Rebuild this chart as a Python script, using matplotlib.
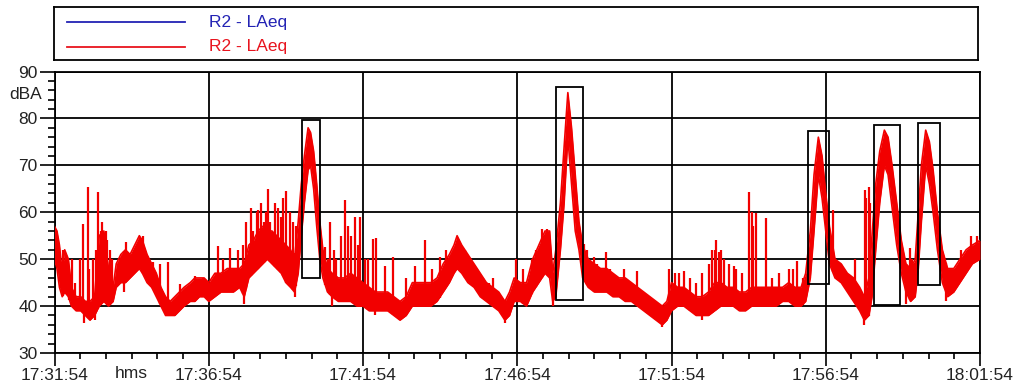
import matplotlib
matplotlib.use("Agg")
import matplotlib.pyplot as plt
from matplotlib.patches import Rectangle
from matplotlib.ticker import MultipleLocator, FixedLocator, FixedFormatter
import numpy as np

plt.rcParams['font.family'] = ['Liberation Sans', 'DejaVu Sans']

# LAeq trace, minutes after 17:31:54, lower / upper edge of the noisy band (dBA)
t_min = [0.00, 0.08, 0.16, 0.25, 0.33, 0.45, 0.55, 0.70, 0.85, 1.00, 1.15, 1.30, 1.45, 1.60, 1.75,
         1.90, 2.00, 2.15, 2.30, 2.45, 2.60, 2.75, 2.85, 3.00, 3.15, 3.30, 3.45, 3.60, 3.75, 3.90,
         4.05, 4.20, 4.40, 4.55, 4.70, 4.85, 5.00, 5.20, 5.40, 5.60, 5.80, 6.00, 6.15, 6.30, 6.45,
         6.60, 6.75, 6.90, 7.05, 7.20, 7.35, 7.50, 7.65, 7.78, 7.90, 8.00, 8.10, 8.22, 8.30, 8.40,
         8.50, 8.60, 8.70, 8.85, 9.00, 9.20, 9.40, 9.60, 9.80, 10.00, 10.20, 10.40, 10.60, 10.80, 11.00,
         11.20, 11.40, 11.60, 11.80, 12.00, 12.20, 12.40, 12.60, 12.80, 12.95, 13.05, 13.20, 13.40, 13.60, 13.80,
         14.00, 14.20, 14.40, 14.60, 14.75, 14.90, 15.10, 15.30, 15.50, 15.70, 15.90, 16.05, 16.15, 16.25, 16.40,
         16.52, 16.64, 16.76, 16.88, 17.00, 17.12, 17.30, 17.50, 17.70, 17.90, 18.10, 18.30, 18.50, 18.70, 18.90,
         19.10, 19.30, 19.50, 19.70, 19.85, 20.00, 20.20, 20.40, 20.60, 20.80, 21.00, 21.20, 21.40, 21.60, 21.80,
         22.00, 22.20, 22.40, 22.60, 22.80, 23.00, 23.20, 23.40, 23.60, 23.80, 24.00, 24.20, 24.35, 24.50, 24.62,
         24.76, 24.88, 25.00, 25.12, 25.30, 25.50, 25.70, 25.90, 26.10, 26.25, 26.40, 26.50, 26.62, 26.75, 26.90,
         27.02, 27.15, 27.30, 27.45, 27.60, 27.75, 27.90, 28.00, 28.10, 28.24, 28.36, 28.48, 28.62, 28.78, 28.95,
         29.15, 29.35, 29.55, 29.75, 30.00]
laeq_lo = [50, 48, 44, 42, 43, 42, 40, 39, 39, 38, 37, 38, 40, 41, 40,
           41, 44, 45, 45, 46, 47, 48, 47, 45, 44, 42, 40, 38, 38, 38,
           39, 40, 41, 41, 42, 42, 41, 42, 43, 43, 43, 44, 42, 46, 47,
           48, 49, 50, 49, 48, 47, 45, 44, 43, 47, 55, 62, 69, 70, 65,
           57, 50, 46, 43, 42, 41, 41, 41, 40, 40, 39, 39, 39, 39, 38,
           37, 38, 40, 40, 40, 40, 41, 43, 45, 47, 48, 47, 45, 44, 42,
           41, 40, 39, 37, 38, 41, 41, 40, 43, 45, 47, 46, 41, 42, 52,
           62, 76, 66, 56, 52, 46, 44, 43, 43, 43, 42, 42, 41, 41, 40,
           39, 38, 37, 36, 37, 39, 40, 40, 39, 38, 38, 38, 39, 40, 40,
           40, 39, 39, 40, 40, 40, 40, 40, 41, 41, 40, 40, 41, 46, 56,
           68, 63, 56, 49, 46, 45, 43, 41, 39, 37, 38, 42, 52, 62, 70,
           68, 61, 53, 47, 43, 41, 42, 48, 58, 70, 66, 60, 52, 45, 42,
           43, 45, 47, 49, 50]
laeq_hi = [57, 56, 53, 47, 52, 50, 44, 42, 42, 41, 41, 42, 55, 56, 48,
           44, 49, 51, 52, 51, 53, 55, 54, 51, 49, 47, 44, 42, 41, 42,
           43, 44, 45, 46, 46, 46, 45, 47, 47, 48, 48, 48, 49, 53, 54,
           56, 57, 56, 56, 55, 54, 53, 52, 50, 58, 66, 72, 78, 77, 73,
           66, 58, 52, 48, 47, 46, 46, 47, 46, 45, 44, 43, 43, 43, 42,
           41, 42, 45, 45, 45, 45, 46, 49, 51, 53, 55, 53, 51, 49, 47,
           45, 44, 43, 41, 43, 46, 45, 45, 50, 53, 56, 56, 47, 52, 62,
           74, 85.5, 78, 68, 58, 53, 50, 49, 48, 48, 47, 46, 46, 45, 44,
           43, 42, 41, 40, 41, 45, 44, 44, 43, 42, 42, 43, 45, 45, 44,
           44, 43, 43, 44, 44, 44, 44, 44, 44, 45, 44, 44, 47, 56, 68,
           76, 72, 64, 57, 50, 49, 47, 46, 44, 42, 46, 55, 66, 73, 77.5,
           76, 70, 62, 54, 49, 48, 50, 60, 70, 77.5, 75, 69, 60, 52, 48,
           48, 50, 52, 53, 54]

# short spikes rising out of the band
spike_t = [0.05, 0.26, 0.40, 0.48, 0.58, 0.65, 0.84, 0.93, 1.07, 1.12, 1.24, 1.35, 1.40, 1.50, 1.55,
           1.66, 1.70, 1.79, 1.85, 2.31, 2.86, 3.18, 3.41, 3.67, 4.06, 4.55, 4.81, 5.30, 5.45, 5.69,
           5.82, 5.95, 6.01, 6.10, 6.21, 6.37, 6.45, 6.55, 6.60, 6.70, 6.79, 6.85, 6.92, 7.00, 7.15,
           7.25, 7.34, 7.40, 7.51, 7.62, 7.73, 7.82,
           8.77, 8.85, 8.94, 9.05, 9.13, 9.30, 9.42, 9.52, 9.62, 9.75, 9.85, 9.91, 10.07, 10.15, 10.33,
           10.43, 10.72, 10.98, 11.41, 11.67, 12.02, 12.25, 12.48, 12.70, 13.30, 13.88, 14.07, 14.20, 14.95, 15.20,
           15.47, 15.60, 15.79, 15.85, 15.96,
           17.16, 17.25, 17.48, 17.60, 17.87, 18.00, 18.46, 18.88, 19.92, 20.10, 20.25, 20.41, 20.60, 20.80, 20.99,
           21.20, 21.32, 21.40, 21.45, 21.55, 21.62, 21.71, 21.87, 22.03, 22.10, 22.30, 22.52, 22.60, 22.65, 22.75,
           23.07, 23.27, 23.50, 23.82, 23.95, 24.08, 24.25,
           25.22, 25.50, 25.94, 26.26, 26.32, 26.39, 26.45, 27.72, 27.79, 27.85, 29.40, 29.70, 29.90]
spike_top = [56, 52, 50, 48, 50, 45, 50, 57.6, 65.4, 48, 50, 52, 64.4, 56, 58,
             56, 54, 52, 50, 53.6, 55, 49.5, 49, 49.4, 44.8, 46.5, 46, 52.9, 50, 52.3,
             48, 52, 48, 53, 57.9, 61, 56, 60, 60.5, 62, 58, 60, 65, 58, 62,
             61, 59, 63, 64.5, 60, 58, 57,
             52.6, 50, 57.9, 52, 50, 55, 62.6, 57, 55, 58.9, 53, 58.9, 50, 50, 54.4,
             54.6, 48.6, 50.4, 46, 48.6, 54, 48, 50.4, 52, 52, 46, 45, 46, 50, 48,
             50, 52, 56.5, 55, 56.5,
             53.3, 52, 50.4, 49, 51.5, 48, 48, 47.5, 48, 47, 47, 47.5, 46, 45, 47,
             49, 51.9, 52, 54, 51.5, 52, 50, 49, 48.5, 48, 47, 64.4, 60, 57, 59.8,
             58.7, 46, 47, 48, 48, 49.7, 46,
             60.4, 49, 50, 64.7, 63, 65.4, 62, 52.3, 50, 49, 52, 55, 55]

# short dips below the band
dip_t = [0.95, 1.30, 2.25, 6.15, 7.80, 9.00, 10.40, 11.20, 14.60, 16.15, 19.70, 21.00, 26.25, 27.60, 28.90]
dip_bottom = [36.5, 37, 43, 40.5, 42, 40, 38, 37, 36.5, 40, 35.5, 37, 36, 40.5, 41]

# marked events: start / end (minutes), low / high (dBA)
box_start = [8.03, 16.25, 24.43, 26.56, 28.00]
box_end = [8.61, 17.12, 25.11, 27.41, 28.71]
box_low = [46.0, 41.3, 44.7, 40.2, 44.5]
box_high = [79.7, 86.8, 77.3, 78.6, 79.0]

x_tick_labels = ["17:31:54", "17:36:54", "17:41:54", "17:46:54", "17:51:54", "17:56:54", "18:01:54"]
series_names = ["R2 - LAeq", "R2 - LAeq"]
series_colors = ["#2323b4", "#e8141e"]

RED = "#f20000"
FS = 12.5

fig = plt.figure(figsize=(10.19, 3.87), dpi=100)
W, H = 1019.0, 387.0

# main plot
ax = fig.add_axes([54.5 / W, 1 - 353 / H, (980 - 54.5) / W, (353 - 71.5) / H])
ax.set_xlim(0, 30)
ax.set_ylim(30, 90)

t = np.array(t_min)
lo = np.array(laeq_lo)
hi = np.array(laeq_hi)
ax.fill_between(t, lo, hi, color=RED, lw=0, zorder=3)
ax.plot(t, lo, color=RED, lw=1.2, zorder=3)
ax.plot(t, hi, color=RED, lw=1.2, zorder=3)
st = np.array(spike_t)
ax.vlines(st, np.interp(st, t, lo), spike_top, color=RED, lw=1.6, zorder=3)
dt = np.array(dip_t)
ax.vlines(dt, dip_bottom, np.interp(dt, t, hi), color=RED, lw=1.6, zorder=3)

for x0, x1, y0, y1 in zip(box_start, box_end, box_low, box_high):
    ax.add_patch(Rectangle((x0, y0), x1 - x0, y1 - y0, fill=False, ec="black", lw=1.3, zorder=4))

ax.xaxis.set_major_locator(FixedLocator(np.arange(0, 31, 5)))
ax.xaxis.set_major_formatter(FixedFormatter(x_tick_labels))
ax.xaxis.set_minor_locator(MultipleLocator(50 / 60))
ax.yaxis.set_major_locator(MultipleLocator(10))
ax.yaxis.set_minor_locator(MultipleLocator(2))
ax.grid(True, which="major", color="black", lw=1.3, zorder=2)
ax.set_axisbelow(True)
for sp in ax.spines.values():
    sp.set_linewidth(1.3)
    sp.set_color("black")

ax.tick_params(axis="x", which="major", direction="out", length=9, width=1.2, pad=2,
               labelsize=FS, colors="black", labelcolor="#222222")
ax.tick_params(axis="x", which="minor", direction="out", length=4, width=1.2)
ax.tick_params(axis="y", which="major", direction="out", length=11, width=1.2, pad=1,
               labelsize=FS, labelcolor="#222222")
ax.tick_params(axis="y", which="minor", direction="out", length=5, width=1.2)

ax.text(-0.013, 85, "dBA", transform=ax.get_yaxis_transform(), ha="right", va="center",
        fontsize=FS, color="#222222")
ax.text(131 / W, 1 - 374 / H, "hms", transform=fig.transFigure, ha="center", va="center",
        fontsize=FS, color="#222222")

# legend panel
lg = fig.add_axes([54 / W, 1 - 60 / H, (978 - 54) / W, 53 / H])
lg.set_xlim(0, 1)
lg.set_ylim(0, 1)
lg.set_xticks([])
lg.set_yticks([])
for sp in lg.spines.values():
    sp.set_linewidth(1.3)
    sp.set_color("black")
for i, (name, col) in enumerate(zip(series_names, series_colors)):
    yy = 0.71 - i * 0.46
    lg.plot([0.014, 0.142], [yy, yy], color=col, lw=1.3)
    lg.text(0.168, yy, name, color=col, fontsize=FS, va="center", ha="left")

fig.savefig("out.png", dpi=100)
